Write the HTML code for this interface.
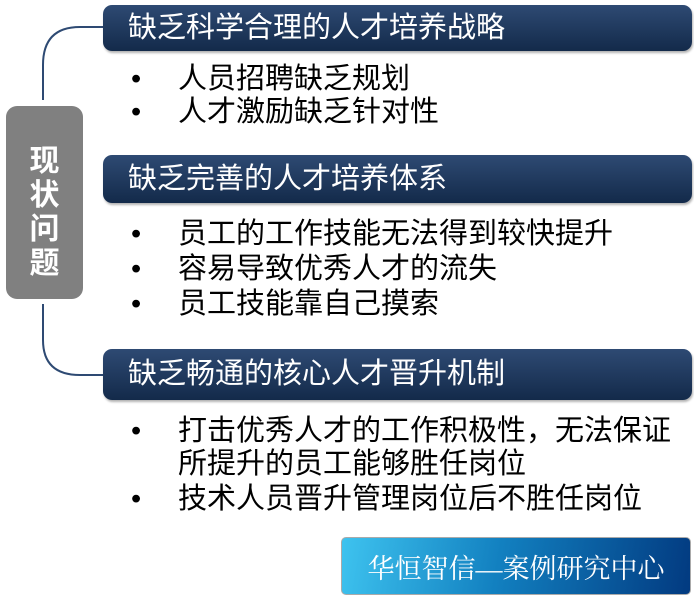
<!DOCTYPE html>
<html><head><meta charset="utf-8"><style>
body{margin:0;width:694px;height:599px;background:#fff;position:relative;overflow:hidden;font-family:"Liberation Sans","Noto Sans CJK SC",sans-serif;}
.h{position:absolute;left:103px;width:589px;border-radius:9px;background:linear-gradient(#2e4a73,#132a4a);color:#fff;font-size:29px;line-height:1;padding-left:25px;box-sizing:border-box;display:flex;align-items:center;box-shadow:1px 2px 2px rgba(0,0,0,.3);white-space:nowrap;}
.b{position:absolute;left:131px;font-size:29px;color:#000;white-space:nowrap;line-height:1;}
.b .d{position:absolute;left:0;top:0;}
.b .t{position:absolute;left:47px;top:0;}
.g{position:absolute;left:6px;top:106px;width:77px;height:193px;border-radius:11px;background:#808080;color:#fff;font-weight:bold;font-size:30px;display:flex;flex-direction:column;align-items:center;justify-content:center;line-height:34px;padding-top:20px;box-sizing:border-box;}
.f{position:absolute;left:341px;top:537px;width:350px;height:58px;border-radius:5px;background:linear-gradient(100deg,#3ec3ef,#1280c0 45%,#023a80);border:1px solid #aaa;box-sizing:border-box;color:#fff;font-family:"Liberation Serif","Noto Serif CJK SC",serif;font-size:27px;display:flex;align-items:center;justify-content:center;white-space:nowrap;}
</style></head><body>
<svg width="694" height="599" style="position:absolute;left:0;top:0">
<path d="M103 27 L80 27 Q43 27 43 65 L43 100" fill="none" stroke="#2e4a73" stroke-width="2"/>
<path d="M43 304 L43 340 Q43 375 80 375 L103 375" fill="none" stroke="#2e4a73" stroke-width="2"/>
</svg>
<div class="h" style="top:5px;height:46px">缺乏科学合理的人才培养战略</div>
<div class="b" style="top:65px"><span class="d">•</span><span class="t">人员招聘缺乏规划</span></div>
<div class="b" style="top:98px"><span class="d">•</span><span class="t">人才激励缺乏针对性</span></div>
<div class="h" style="top:155px;height:48px">缺乏完善的人才培养体系</div>
<div class="b" style="top:220px"><span class="d">•</span><span class="t">员工的工作技能无法得到较快提升</span></div>
<div class="b" style="top:255px"><span class="d">•</span><span class="t">容易导致优秀人才的流失</span></div>
<div class="b" style="top:290px"><span class="d">•</span><span class="t">员工技能靠自己摸索</span></div>
<div class="h" style="top:349px;height:51px">缺乏畅通的核心人才晋升机制</div>
<div class="b" style="top:417px"><span class="d">•</span><span class="t">打击优秀人才的工作积极性，无法保证</span></div>
<div class="b" style="top:450px"><span class="t">所提升的员工能够胜任岗位</span></div>
<div class="b" style="top:485px"><span class="d">•</span><span class="t">技术人员晋升管理岗位后不胜任岗位</span></div>
<div class="g"><div>现</div><div>状</div><div>问</div><div>题</div></div>
<div class="f">华恒智信—案例研究中心</div>
</body></html>
